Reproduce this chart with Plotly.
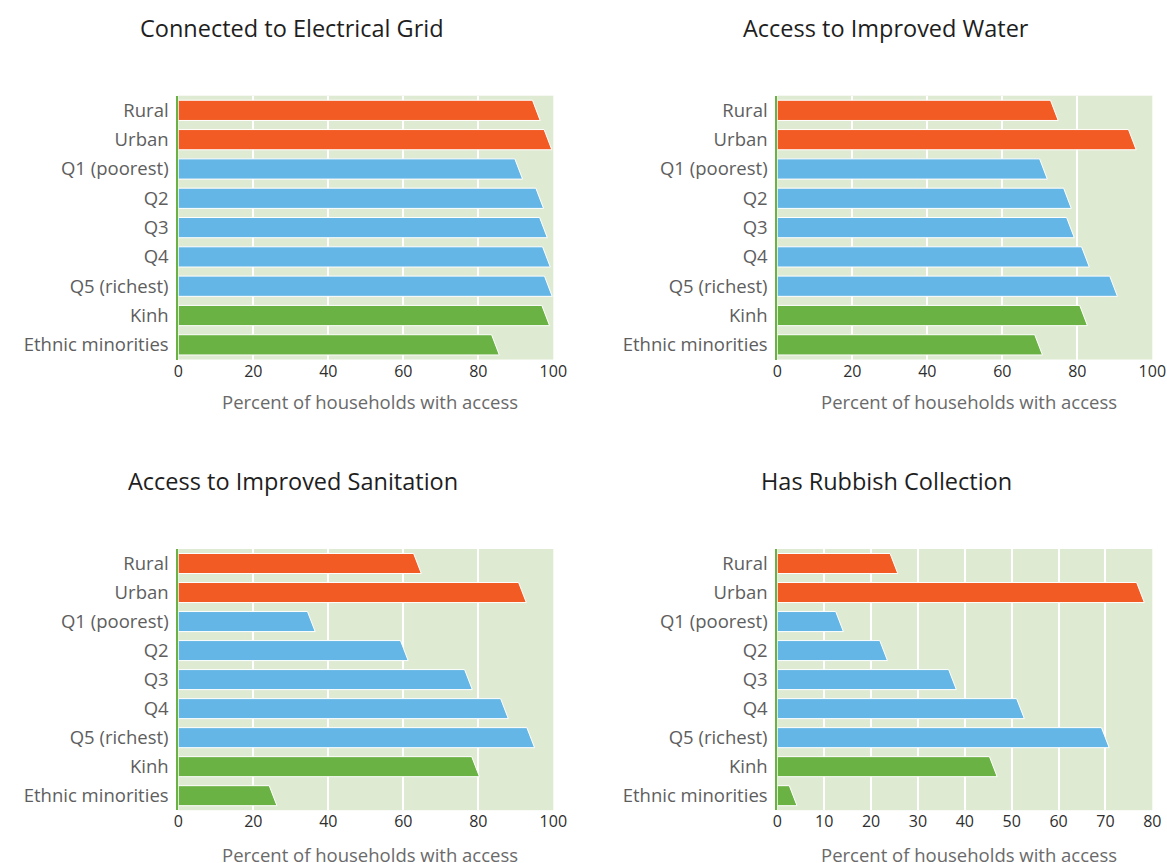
import plotly.graph_objects as go

# Household access to services, by group (percent of households)
categories = ["Rural", "Urban", "Q1 (poorest)", "Q2", "Q3", "Q4",
              "Q5 (richest)", "Kinh", "Ethnic minorities"]
group_of = ["area", "area", "quint", "quint", "quint", "quint", "quint", "eth", "eth"]

electric_grid = [96.5, 99.6, 91.8, 97.4, 98.4, 99.2, 99.7, 99.0, 85.6]
improved_water = [74.9, 95.7, 72.0, 78.4, 79.2, 83.2, 90.7, 82.7, 70.7]
improved_sanitation = [64.8, 92.8, 36.5, 61.3, 78.4, 88.0, 95.0, 80.3, 26.3]
rubbish_collection = [25.7, 78.3, 14.1, 23.5, 38.2, 52.7, 70.8, 46.9, 4.2]

titles = ["Connected to Electrical Grid", "Access to Improved Water",
          "Access to Improved Sanitation", "Has Rubbish Collection"]
x_max = [100, 100, 100, 80]
x_ticks = [[0, 20, 40, 60, 80, 100], [0, 20, 40, 60, 80, 100],
           [0, 20, 40, 60, 80, 100], [0, 10, 20, 30, 40, 50, 60, 70, 80]]
panels = [electric_grid, improved_water, improved_sanitation, rubbish_collection]

colors = {"area": "#F25B23", "quint": "#63B6E5", "eth": "#6BB244"}

W, H = 1167, 863
# plot-area pixel boxes: (left, right, top, bottom)
boxes = [(178.3, 553.3, 95.7, 359.5), (777.3, 1152.3, 95.7, 359.5),
         (178.3, 553.3, 549.0, 810.2), (777.3, 1152.3, 549.0, 810.2)]

BAR_H = 0.69      # bar thickness in category units
SLANT_PX = 7.7    # horizontal run of the cut right end, in pixels

FONT = "Open Sans"
fig = go.Figure()
layout = {}

for p, (vals, title, xm, ticks, box) in enumerate(zip(panels, titles, x_max, x_ticks, boxes)):
    l, r, t, b = box
    k = "" if p == 0 else str(p + 1)
    xa, ya = "x" + k, "y" + k
    slant = SLANT_PX * xm / (r - l)

    for grp, col in colors.items():
        xs, ys = [], []
        for i, v in enumerate(vals):
            if group_of[i] != grp:
                continue
            top, bot = i - BAR_H / 2, i + BAR_H / 2
            xs += [0, max(v - slant, 0), v, 0, 0, None]
            ys += [top, top, bot, bot, top, None]
        fig.add_trace(go.Scatter(
            x=xs, y=ys, xaxis=xa, yaxis=ya, mode="lines", fill="toself",
            fillcolor=col, line=dict(color="white", width=1),
            hoverinfo="skip", showlegend=False))

    layout["xaxis" + k] = dict(
        domain=[l / W, r / W], anchor=ya, range=[0, xm], automargin=False,
        tickvals=ticks, showgrid=True, gridcolor="white", gridwidth=1.5,
        zeroline=False, showline=False, ticks="",
        tickfont=dict(family=FONT, size=16, color="#2E2E2E"),
        fixedrange=True)
    layout["yaxis" + k] = dict(
        domain=[1 - b / H, 1 - t / H], anchor=xa, range=[8.5, -0.5],
        automargin=False,
        tickvals=list(range(len(categories))), ticktext=categories,
        showgrid=False, zeroline=False, showline=True,
        linecolor="#6BB244", linewidth=2, ticks="", ticklabelstandoff=4,
        tickfont=dict(family=FONT, size=18.5, color="#5E5E5E"),
        fixedrange=True)

annotations = []
title_pos = [(292, 28), (886, 28), (293, 481), (886, 481)]
for (cx, cy), title in zip(title_pos, titles):
    annotations.append(dict(
        text=title, x=cx / W, y=1 - cy / H, xref="paper", yref="paper",
        xanchor="center", yanchor="middle", showarrow=False,
        font=dict(family=FONT, size=23.5, color="#1E1E1E")))
axis_title_pos = [(370, 401), (969, 401), (370, 854), (969, 854)]
for cx, cy in axis_title_pos:
    annotations.append(dict(
        text="Percent of households with access", x=cx / W, y=1 - cy / H,
        xref="paper", yref="paper", xanchor="center", yanchor="middle",
        showarrow=False, font=dict(family=FONT, size=18.5, color="#6A6A6A")))

fig.update_layout(
    width=W, height=H, autosize=False, margin=dict(l=0, r=0, t=0, b=0),
    paper_bgcolor="white", plot_bgcolor="#DFEAD3",
    annotations=annotations, **layout)

fig.write_html("out.html", config={"responsive": False})
